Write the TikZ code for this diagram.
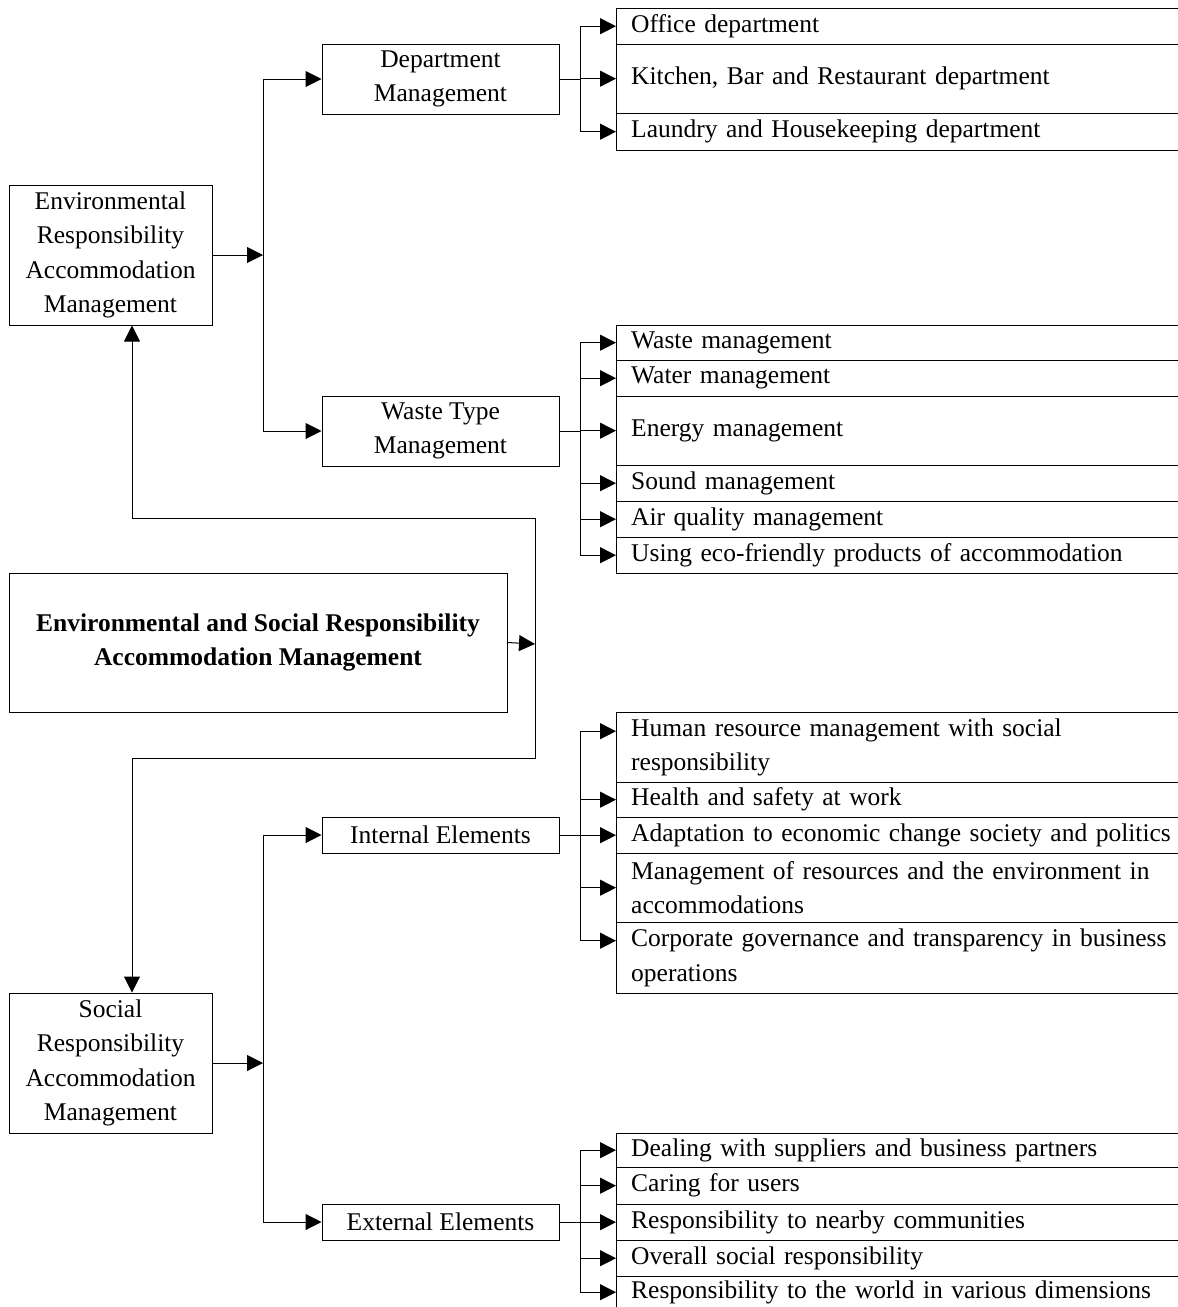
\documentclass[tikz,border=0pt]{standalone}
\usepackage{fontspec}
\setmainfont{Liberation Serif}
\usetikzlibrary{arrows.meta}
\begin{document}
\begin{tikzpicture}[x=1pt,y=-1pt,
  every node/.style={font=\fontsize{25.5}{34.5}\selectfont},
  box/.style={draw, line width=1pt, align=center, inner sep=0pt},
  row/.style={anchor=north west, inner xsep=15pt, inner ysep=0pt,
              text width=560pt, align=left},
  rule/.style={line width=1pt},
  arr/.style={line width=1pt, -{Triangle[length=16pt,width=16pt]}}]
\useasboundingbox (0,0) rectangle (1178,1307);

% ---- main boxes ----
\node[box, minimum width=203pt, minimum height=140pt] (env) at (110.5,255)
  {Environmental\\Responsibility\\Accommodation\\Management};
\node[box, minimum width=237pt, minimum height=70pt] (dept) at (440.5,79)
  {Department\\Management};
\node[box, minimum width=237pt, minimum height=70pt] (waste) at (440.5,431)
  {Waste Type\\Management};
\node[box, minimum width=498pt, minimum height=139pt] (main) at (258,642.5)
  {\bfseries Environmental and Social Responsibility\\\bfseries Accommodation Management};
\node[box, minimum width=237pt, minimum height=36pt] (intl) at (440.5,835)
  {Internal Elements};
\node[box, minimum width=203pt, minimum height=140pt] (soc) at (110.5,1063)
  {Social\\Responsibility\\Accommodation\\Management};
\node[box, minimum width=237pt, minimum height=36pt] (extl) at (440.5,1222)
  {External Elements};

% ---- department list (rows run on past the right edge) ----
\node[row, minimum height=36pt] (d1) at (616,8) {Office department};
\node[row, minimum height=69pt] (d2) at (616,44) {Kitchen, Bar and Restaurant department};
\node[row, minimum height=37pt] (d3) at (616,113) {Laundry and Housekeeping department};
\foreach \r in {d1,d2,d3} \draw[rule] (\r.north west) -- (\r.north east);
\draw[rule] (d3.south west) -- (d3.south east);
\draw[rule] (d1.north west) -- (d3.south west);

% ---- waste list ----
\node[row, minimum height=35pt] (w1) at (616,325) {Waste management};
\node[row, minimum height=36pt] (w2) at (616,360) {Water management};
\node[row, minimum height=69pt] (w3) at (616,396) {Energy management};
\node[row, minimum height=36pt] (w4) at (616,465) {Sound management};
\node[row, minimum height=36pt] (w5) at (616,501) {Air quality management};
\node[row, minimum height=36pt] (w6) at (616,537) {Using eco-friendly products of accommodation};
\foreach \r in {w1,w2,w3,w4,w5,w6} \draw[rule] (\r.north west) -- (\r.north east);
\draw[rule] (w6.south west) -- (w6.south east);
\draw[rule] (w1.north west) -- (w6.south west);

% ---- internal list ----
\node[row, minimum height=70pt] (i1) at (616,712) {Human resource management with social\\responsibility};
\node[row, minimum height=35pt] (i2) at (616,782) {Health and safety at work};
\node[row, minimum height=36pt] (i3) at (616,817) {Adaptation to economic change society and politics};
\node[row, minimum height=69pt] (i4) at (616,853) {Management of resources and the environment in\\accommodations};
\node[row, minimum height=71pt] (i5) at (616,922) {Corporate governance and transparency in business\\operations};
\foreach \r in {i1,i2,i3,i4,i5} \draw[rule] (\r.north west) -- (\r.north east);
\draw[rule] (i5.south west) -- (i5.south east);
\draw[rule] (i1.north west) -- (i5.south west);

% ---- external list ----
\node[row, minimum height=34pt] (e1) at (616,1133) {Dealing with suppliers and business partners};
\node[row, minimum height=37pt] (e2) at (616,1167) {Caring for users};
\node[row, minimum height=36pt] (e3) at (616,1204) {Responsibility to nearby communities};
\node[row, minimum height=36pt] (e4) at (616,1240) {Overall social responsibility};
\node[row, minimum height=32pt] (e5) at (616,1276) {Responsibility to the world in various dimensions};
\foreach \r in {e1,e2,e3,e4,e5} \draw[rule] (\r.north west) -- (\r.north east);
\draw[rule] (e1.north west) -- (616,1307);

% ---- junction points ----
\coordinate (jE) at (263,255);
\coordinate (jD) at (580,79);
\coordinate (jW) at (580,431);
\coordinate (jM) at (535,644);
\coordinate (up) at (132,518);
\coordinate (dn) at (132,758);
\coordinate (jS) at (263,1063);
\coordinate (jI) at (580,835);
\coordinate (jX) at (580,1222);

% ---- environmental branch ----
\draw[arr] (env.east) -- (jE);
\draw[arr] (jE) |- (dept.west);
\draw[arr] (jE) |- (waste.west);
\draw[rule] (dept.east) -- (jD);
\foreach \r in {d1,d2,d3} \draw[arr] (jD) |- (\r.west);
\draw[rule] (waste.east) -- (jW);
\foreach \r in {w1,w2,w3,w4,w5,w6} \draw[arr] (jW) |- (\r.west);

% ---- central loop ----
\draw[arr] (main.east) -- (jM);
\draw[arr] (jM) |- (up) -- (up |- env.south);
\draw[arr] (jM) |- (dn) -- (dn |- soc.north);

% ---- social branch ----
\draw[arr] (soc.east) -- (jS);
\draw[arr] (jS) |- (intl.west);
\draw[arr] (jS) |- (extl.west);
\draw[rule] (intl.east) -- (jI);
\draw[arr] (jI) |- ([yshift=16pt]i1.west);
\foreach \r in {i2,i3,i4} \draw[arr] (jI) |- (\r.west);
\draw[arr] (jI) |- ([yshift=17pt]i5.west);
\draw[rule] (extl.east) -- (jX);
\foreach \r in {e1,e2,e3,e4,e5} \draw[arr] (jX) |- (\r.west);
\end{tikzpicture}
\end{document}
